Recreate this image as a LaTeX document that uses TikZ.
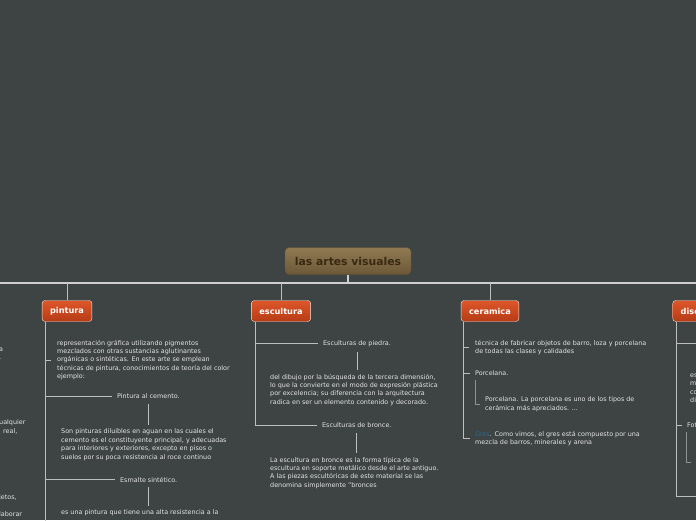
\documentclass[tikz,border=0pt]{standalone}
\usepackage{fontspec}
\setmainfont{DejaVu Sans}
\usetikzlibrary{positioning, calc}
\definecolor{mmbg}{HTML}{3E4444}
\definecolor{mmbus}{HTML}{CFCFCF}
\definecolor{mmline}{HTML}{BDBFBF}
\definecolor{mmsub}{HTML}{8E9292}
\definecolor{mmtext}{HTML}{E4E4E4}
\definecolor{mmroottop}{HTML}{8F7A52}
\definecolor{mmrootbot}{HTML}{6C5838}
\definecolor{mmrootedge}{HTML}{5E4E33}
\definecolor{mmroottext}{HTML}{3A2912}
\definecolor{mmorangetop}{HTML}{DE5729}
\definecolor{mmorangebot}{HTML}{B53B16}
\definecolor{mmedge}{HTML}{F2E6E0}
\definecolor{mmblue}{HTML}{1F6E9C}

\begin{document}
\begin{tikzpicture}[x=1pt, y=-1pt, font=\fontsize{6.4}{8.4}\selectfont,
    rootbox/.style={draw=mmrootedge, top color=mmroottop, bottom color=mmrootbot,
      rounded corners=4pt, text=mmroottext, font=\fontsize{10.8}{12}\selectfont\bfseries,
      minimum width=126pt, minimum height=27pt},
    branchbox/.style={draw=mmedge, top color=mmorangetop, bottom color=mmorangebot,
      rounded corners=3pt, text=white, font=\fontsize{8.2}{10}\selectfont\bfseries,
      minimum height=21pt, inner xsep=8pt},
    topic/.style={text=mmtext, anchor=west, inner xsep=5pt, inner ysep=1pt},
    note/.style={text=mmtext, anchor=north west, align=left, inner sep=0pt},
    bus/.style={draw=mmbus, line width=1.5pt},
    link/.style={draw=mmline, line width=1pt},
    sublink/.style={draw=mmsub, line width=1pt}]
  \path[use as bounding box, fill=mmbg] (0,0) rectangle (696,520);
  \clip (0,0) rectangle (696,520);

  % root and bus
  \node[rootbox] (root) at (348,261) {las artes visuales};
  \coordinate (busL) at (0,283);
  \coordinate (busR) at (696,283);
  \draw[bus] (busL) -- (busR);
  \draw[bus] (root) -- (root |- busL);

  \node[branchbox] (pintura) at (67,311) {pintura};
  \node[branchbox] (escultura) at (281,311) {escultura};
  \node[branchbox] (ceramica) at (490,311) {ceramica};
  \node[branchbox] (diseno) at (696,311) {diseño};
  \foreach \b in {pintura, escultura, ceramica, diseno}
    \draw[link] (\b) -- (\b |- busL);

  % branch cut off on the left
  \node[note] (lfa) at (-1,347.8) {a\\.};
  \node[note] (lfb) at (-1,419.8) {ualquier};
  \node[note] (lfb2) at (3,428.2) {real,};
  \node[note] (lfc) at (-1,494.8) {jetos,};
  \node[note] (lfd) at (-1,511.8) {laborar};

  % pintura
  \coordinate (ptrunk) at ($(pintura.south west)+(4,0)$);
  \coordinate (pend) at (47,525);
  \node[note] (pdef) at (57,339.8) {representación gráfica utilizando pigmentos\\
    mezclados con otras sustancias aglutinantes\\
    orgánicas o sintéticas. En este arte se emplean\\
    técnicas de pintura, conocimientos de teoría del color\\
    ejemplo:};
  \node[topic] (pcem) at (112,396.5) {Pintura al cemento.};
  \node[note] (pcemtxt) at (61,428.8) {Son pinturas diluibles en aguan en las cuales el\\
    cemento es el constituyente principal, y adecuadas\\
    para interiores y exteriores, excepto en pisos o\\
    suelos por su poca resistencia al roce continuo};
  \node[topic] (pesm) at (115,479.5) {Esmalte sintético.};
  \node[note] (pesmtxt) at (61,509.8) {es una pintura que tiene una alta resistencia a la};
  \draw[link] (ptrunk) -- (ptrunk |- pend);
  \draw[link] (ptrunk |- pdef.west) -- ++(5,0);
  \draw[link] (ptrunk |- pcem.west) -- (pcem.west);
  \draw[link] (ptrunk |- pesm.west) -- (pesm.west);
  \draw[link, shorten <=4pt, shorten >=4pt] (pcem.south) -- (pcem.south |- pcemtxt.north);
  \draw[link, shorten <=4pt, shorten >=4pt] (pesm.south) -- (pesm.south |- pesmtxt.north);

  % escultura
  \coordinate (etrunk) at ($(escultura.south west)+(4,0)$);
  \node[topic] (epie) at (318,343.5) {Esculturas de piedra.};
  \node[note] (epietxt) at (270,373.8) {del dibujo por la búsqueda de la tercera dimensión,\\
    lo que la convierte en el modo de expresión plástica\\
    por excelencia; su diferencia con la arquitectura\\
    radica en ser un elemento contenido y decorado.};
  \node[topic] (ebro) at (317,425.5) {Esculturas de bronce.};
  \node[note] (ebrotxt) at (270,456.8) {La escultura en bronce es la forma típica de la\\
    escultura en soporte metálico desde el arte antiguo.\\
    A las piezas escultóricas de este material se las\\
    denomina simplemente "bronces};
  \draw[link] (etrunk) |- (ebro.west);
  \draw[link] (etrunk |- epie.west) -- (epie.west);
  \draw[link, shorten <=4pt, shorten >=4pt] (epie.south) -- (epie.south |- epietxt.north);
  \draw[link, shorten <=4pt, shorten >=4pt] (ebro.south) -- (ebro.south |- ebrotxt.north);

  % ceramica
  \coordinate (ctrunk) at ($(ceramica.south west)+(3,0)$);
  \node[note] (cdef) at (475,339.8) {técnica de fabricar objetos de barro, loza y porcelana\\
    de todas las clases y calidades};
  \node[topic] (cpor) at (470,373) {Porcelana.};
  \node[note] (cportxt) at (485,396.8) {Porcelana. La porcelana es uno de los tipos de\\
    cerámica más apreciados. ...};
  \node[note] (cgres) at (475,430.8) {\textcolor{mmblue}{Gres}. Como vimos, el gres está compuesto por una\\
    mezcla de barros, minerales y arena};
  \draw[link] (ctrunk) |- ($(cgres.west)+(-5,0)$);
  \draw[link] (ctrunk |- cdef.west) -- ++(5,0);
  \draw[link] (ctrunk |- cpor.west) -- (cpor.west);
  \draw[sublink] ($(cpor.south west)+(5,3)$) |- ($(cportxt.west)+(-5,0)$);

  % diseno
  \coordinate (dtrunk) at ($(diseno.south west)+(4,0)$);
  \coordinate (dtop) at (700,343);
  \coordinate (dend) at (700,496);
  \coordinate (dsub) at (691,462);
  \node[note] (dtxt) at (690,373.8) {es\\m\\co\\di};
  \node[topic] (dfot) at (682,425) {Fot};
  \draw[link] (dtrunk) |- (dend);
  \draw[link] (dtrunk |- dtop) -- (dtop);
  \draw[link] (dtrunk |- dfot.west) -- (dfot.west);
  \draw[sublink] ($(dfot.south west)+(4,3)$) |- (dsub);
\end{tikzpicture}
\end{document}
